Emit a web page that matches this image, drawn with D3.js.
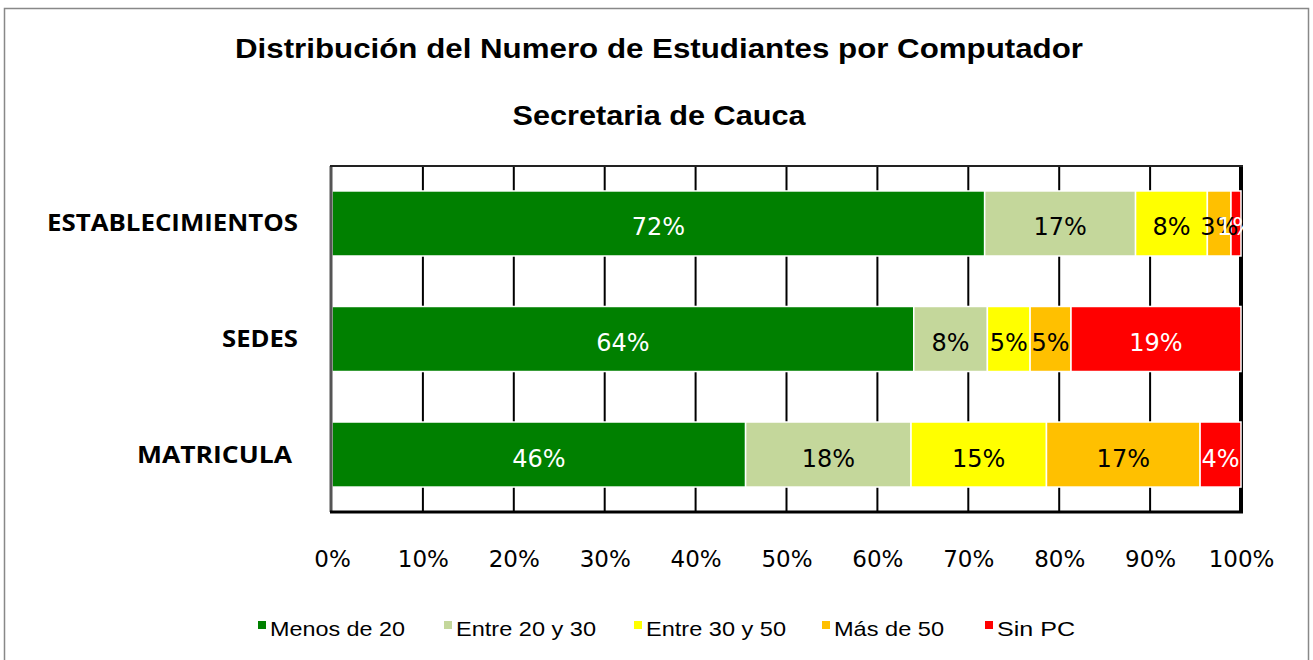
<!DOCTYPE html>
<html>
<head>
<meta charset="utf-8">
<script src="https://cdn.jsdelivr.net/npm/d3@7"></script>
<style>
  body { margin: 0; background: #fff; }
  svg { display: block; }
</style>
</head>
<body>
<script>
const width = 1313;
const height = 660;

// Data (percent of each row)
const categories = ["ESTABLECIMIENTOS", "SEDES", "MATRICULA"];
const seriesNames = ["Menos de 20", "Entre 20 y 30", "Entre 30 y 50", "Más de 50", "Sin PC"];
const seriesColors = ["#008000", "#c4d79b", "#ffff00", "#ffc000", "#ff0000"];
const labelColors = ["#fff", "#000", "#000", "#000", "#fff"];
const menos20 = [71.8, 64.0, 45.5];
const entre20y30 = [16.6, 8.1, 18.2];
const entre30y50 = [7.9, 4.7, 14.9];
const mas50 = [2.6, 4.5, 16.9];
const sinPC = [1.1, 18.7, 4.5];
const valueLabels = [
  ["72%", "17%", "8%", "3%", "1%"],
  ["64%", "8%", "5%", "5%", "19%"],
  ["46%", "18%", "15%", "17%", "4%"]
];
const xTicks = [0, 10, 20, 30, 40, 50, 60, 70, 80, 90, 100];

const table = categories.map((c, i) => {
  const row = { cat: c };
  [menos20, entre20y30, entre30y50, mas50, sinPC].forEach((s, j) => row[seriesNames[j]] = s[i]);
  return row;
});
const stacked = d3.stack().keys(seriesNames)(table);

const svg = d3.select("body")
  .append("svg")
  .attr("width", width)
  .attr("height", height);

// outer chart frame
svg.append("rect")
  .attr("x", 4.5).attr("y", 8.5)
  .attr("width", 1304).attr("height", 700)
  .attr("fill", "#fff")
  .attr("stroke", "#888").attr("stroke-width", 1.5);

const margin = { left: 332, right: 1241, top: 166, bottom: 512 };

const x = d3.scaleLinear().domain([0, 100]).range([margin.left, margin.right]);
const y = d3.scaleBand().domain(categories).range([margin.top, margin.bottom])
  .paddingInner(0.437).paddingOuter(0.216);

svg.append("clipPath").attr("id", "plotclip")
  .append("rect")
  .attr("x", margin.left).attr("y", margin.top)
  .attr("width", margin.right - margin.left + 2)
  .attr("height", margin.bottom - margin.top);

// title
svg.append("text")
  .attr("x", 659).attr("y", 58)
  .attr("text-anchor", "middle")
  .attr("font-family", "Liberation Sans, Arial, sans-serif")
  .attr("font-weight", "bold").attr("font-size", 27)
  .attr("textLength", 848).attr("lengthAdjust", "spacingAndGlyphs")
  .text("Distribución del Numero de Estudiantes por Computador");
svg.append("text")
  .attr("x", 659).attr("y", 125)
  .attr("text-anchor", "middle")
  .attr("font-family", "Liberation Sans, Arial, sans-serif")
  .attr("font-weight", "bold").attr("font-size", 27)
  .attr("textLength", 293).attr("lengthAdjust", "spacingAndGlyphs")
  .text("Secretaria de Cauca");

// gridlines
svg.append("g")
  .selectAll("line")
  .data(xTicks.slice(1))
  .join("line")
  .attr("x1", d => x(d)).attr("x2", d => x(d))
  .attr("y1", margin.top).attr("y2", margin.bottom)
  .attr("stroke", "#000")
  .attr("stroke-width", d => d === 100 ? 4 : 2);

// bars
const layer = svg.append("g")
  .selectAll("g")
  .data(stacked)
  .join("g")
  .attr("fill", (d, i) => seriesColors[i]);

layer.selectAll("rect")
  .data(d => d)
  .join("rect")
  .attr("x", d => x(d[0]))
  .attr("y", d => y(d.data.cat))
  .attr("width", d => x(d[1]) - x(d[0]))
  .attr("height", y.bandwidth())
  .attr("stroke", "#fff")
  .attr("stroke-width", 1.5);

// value labels
const labelsG = svg.append("g").attr("clip-path", "url(#plotclip)");
stacked.forEach((s, j) => {
  labelsG.append("g")
    .selectAll("text")
    .data(s)
    .join("text")
    .attr("x", d => (x(d[0]) + x(d[1])) / 2)
    .attr("y", d => y(d.data.cat) + y.bandwidth() / 2 + 12)
    .attr("text-anchor", "middle")
    .attr("font-family", "DejaVu Sans, Verdana, sans-serif")
    .attr("font-size", 24)
    .attr("fill", labelColors[j])
    .text((d, i) => valueLabels[i][j]);
});

// axes lines
svg.append("line")
  .attr("x1", margin.left - 1).attr("x2", margin.left - 1)
  .attr("y1", margin.top).attr("y2", margin.bottom)
  .attr("stroke", "#555").attr("stroke-width", 3);
svg.append("line")
  .attr("x1", margin.left - 2).attr("x2", margin.right + 2)
  .attr("y1", margin.bottom).attr("y2", margin.bottom)
  .attr("stroke", "#000").attr("stroke-width", 3);
svg.append("line")
  .attr("x1", margin.left - 2).attr("x2", margin.right + 2)
  .attr("y1", margin.top).attr("y2", margin.top)
  .attr("stroke", "#222").attr("stroke-width", 2);

// x axis labels
const xAxis = d3.axisBottom(x)
  .tickValues(xTicks)
  .tickSize(0)
  .tickPadding(0)
  .tickFormat(d => d + "%");
const gx = svg.append("g")
  .attr("transform", `translate(0,567)`)
  .call(xAxis);
gx.select(".domain").remove();
gx.selectAll("text")
  .attr("y", 0).attr("dy", 0)
  .attr("font-family", "DejaVu Sans, Verdana, sans-serif")
  .attr("font-size", 23)
  .attr("fill", "#000");

// category labels
const catWidths = [251, 76, 155];
svg.append("g")
  .selectAll("text")
  .data(categories)
  .join("text")
  .attr("x", d => d === "MATRICULA" ? 292 : 298)
  .attr("y", d => y(d) + y.bandwidth() / 2 + 8)
  .attr("text-anchor", "end")
  .attr("font-family", "Open Sans, Lato, sans-serif")
  .attr("font-weight", "bold")
  .attr("font-size", 23)
  .attr("textLength", (d, i) => catWidths[i])
  .attr("lengthAdjust", "spacingAndGlyphs")
  .attr("fill", "#000")
  .text(d => d);

// legend
const legendX = [258, 444, 634, 822, 985];
const legendW = [135, 140, 140, 110, 78];
const legend = svg.append("g")
  .selectAll("g")
  .data(seriesNames)
  .join("g")
  .attr("transform", (d, i) => `translate(${legendX[i]},628)`);
legend.append("rect")
  .attr("x", 0).attr("y", -7)
  .attr("width", 8).attr("height", 8)
  .attr("fill", d => seriesColors[seriesNames.indexOf(d)]);
legend.append("text")
  .attr("x", 12).attr("y", 8)
  .attr("font-family", "Liberation Sans, Arial, sans-serif")
  .attr("font-size", 21)
  .attr("textLength", d => legendW[seriesNames.indexOf(d)])
  .attr("lengthAdjust", "spacingAndGlyphs")
  .text(d => d);
</script>
</body>
</html>
